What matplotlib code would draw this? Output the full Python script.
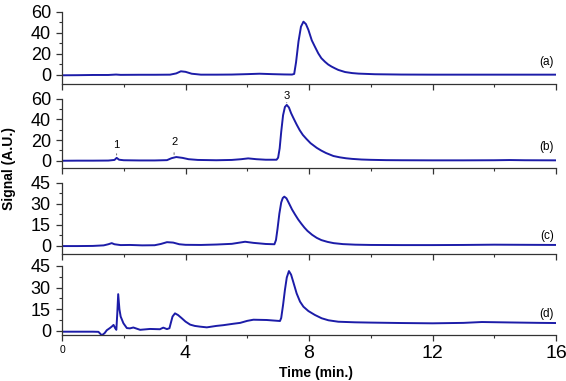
import matplotlib
matplotlib.use("Agg")
import matplotlib.pyplot as plt
from matplotlib.ticker import MultipleLocator

plt.rcParams['font.family'] = ['Liberation Sans', 'DejaVu Sans']

# chromatograms: time (min) and signal (A.U.)
t_a = [0.0, 0.5, 1.0, 1.5, 1.75, 1.9, 2.5, 3.0, 3.5, 3.7, 3.85, 4.0, 4.2, 4.5, 5.0, 5.5, 6.0, 6.4, 6.8, 7.2,
       7.45, 7.52, 7.58, 7.66, 7.74, 7.82, 7.9, 7.98, 8.09, 8.19, 8.3, 8.4, 8.52, 8.62, 8.73, 8.85, 8.95,
       9.17, 9.4, 9.6, 10.14, 11.0, 12.0, 13.0, 14.0, 15.0, 16.0]
y_a = [-0.3, -0.2, 0.0, 0.0, 0.4, 0.1, 0.2, 0.2, 0.3, 1.5, 3.5, 3.0, 1.2, 0.3, 0.3, 0.4, 0.8, 1.2, 0.8, 0.5,
       0.4, 1.0, 12.0, 32.0, 46.0, 50.8, 48.5, 43.0, 33.0, 27.0, 20.6, 16.0, 12.5, 10.0, 8.0, 6.2, 4.8,
       2.8, 1.8, 1.3, 0.7, 0.4, 0.3, 0.3, 0.3, 0.3, 0.3]

t_b = [0.0, 0.5, 1.0, 1.5, 1.7, 1.77, 1.85, 2.0, 2.5, 3.0, 3.4, 3.55, 3.7, 3.9, 4.1, 4.4, 5.0, 5.5, 5.8,
       6.03, 6.3, 6.6, 6.95, 7.0, 7.05, 7.1, 7.16, 7.22, 7.28, 7.35, 7.42, 7.5, 7.6, 7.7, 7.8, 7.92,
       8.05, 8.25, 8.4, 8.55, 8.79, 9.0, 9.2, 9.4, 9.7, 10.0, 10.5, 11.0, 12.0, 13.0, 14.0, 14.5, 15.0, 16.0]
y_b = [0.0, 0.1, 0.1, 0.2, 0.8, 2.8, 1.0, 0.5, 0.3, 0.3, 0.6, 2.5, 3.6, 2.8, 1.5, 0.8, 0.5, 0.8, 1.5,
       2.3, 1.5, 1.0, 1.0, 3.0, 12.0, 28.0, 44.0, 52.0, 54.0, 51.5, 46.0, 41.0, 35.0, 29.5, 25.0, 21.0,
       17.0, 12.5, 9.8, 7.5, 4.6, 3.3, 2.4, 1.8, 1.2, 0.9, 0.6, 0.5, 0.4, 0.4, 0.5, 0.7, 0.5, 0.4]

t_c = [0.0, 0.5, 1.0, 1.35, 1.5, 1.61, 1.7, 1.9, 2.2, 2.6, 3.0, 3.2, 3.4, 3.6, 3.8, 4.0, 4.5, 5.0, 5.5,
       5.93, 6.2, 6.6, 6.88, 6.93, 6.98, 7.04, 7.1, 7.15, 7.2, 7.27, 7.35, 7.45, 7.55, 7.65, 7.75, 7.85,
       7.95, 8.1, 8.25, 8.4, 8.6, 8.8, 9.1, 9.5, 10.0, 11.0, 12.0, 13.0, 14.0, 15.0, 16.0]
y_c = [-0.3, -0.3, -0.2, 0.2, 1.0, 1.8, 1.0, 0.4, 0.5, 0.2, 0.3, 1.2, 2.5, 2.2, 1.0, 0.6, 0.5, 0.8, 1.3,
       2.8, 2.0, 1.2, 1.0, 4.0, 12.0, 23.0, 31.0, 34.2, 35.2, 34.0, 30.5, 26.0, 22.3, 18.8, 15.8, 13.0,
       10.6, 7.8, 5.6, 4.0, 2.7, 1.8, 1.1, 0.7, 0.5, 0.4, 0.4, 0.5, 0.7, 0.6, 0.5]

t_d = [0.0, 0.5, 1.0, 1.18, 1.29, 1.38, 1.45, 1.55, 1.61, 1.67, 1.72, 1.76, 1.79, 1.82, 1.86, 1.9, 1.99,
       2.1, 2.2, 2.31, 2.53, 2.85, 3.17, 3.28, 3.4, 3.48, 3.53, 3.58, 3.66, 3.76, 3.88, 4.0, 4.15, 4.3,
       4.47, 4.69, 5.0, 5.22, 5.55, 5.77, 6.0, 6.2, 6.63, 7.06, 7.1, 7.16, 7.22, 7.28, 7.35, 7.42, 7.49,
       7.6, 7.71, 7.82, 7.98, 8.19, 8.41, 8.63, 8.95, 9.49, 10.0, 11.0, 12.0, 13.0, 13.6, 14.5, 15.5, 16.0]
y_d = [-0.5, -0.5, -0.5, -0.6, -3.0, -1.5, 0.5, 2.0, 3.0, 4.2, 2.0, 0.8, 12.0, 25.5, 15.0, 10.0, 5.3,
       2.0, 1.8, 2.4, 0.8, 1.4, 1.2, 2.3, 1.3, 1.9, 6.0, 10.0, 12.2, 11.0, 8.8, 6.5, 4.4, 3.5,
       3.0, 2.5, 3.5, 4.0, 5.0, 5.6, 7.0, 7.8, 7.6, 6.9, 9.0, 18.0, 28.4, 37.0, 41.5, 39.0, 34.0,
       26.0, 20.3, 16.8, 13.8, 11.1, 8.8, 7.4, 6.4, 6.0, 5.8, 5.5, 5.3, 5.6, 6.2, 5.9, 5.6, 5.5]

panel_labels = ['(a)', '(b)', '(c)', '(d)']
y_limits = [(-8.6, 60), (-7, 60), (-6, 45), (-3, 45)]
y_major = [20, 20, 15, 15]
label_y = [12, 13, 7, 12]

# peak labels in panel (b)
peak_names = ['1', '2', '3']
peak_t = [1.77, 3.63, 7.28]
peak_text_y = [15, 18, 62.5]
peak_mark = [(5.5, 9.5), (6, 10.5), (56, 59)]

line_color = '#1c1ca8'

fig = plt.figure(figsize=(5.66, 3.81), dpi=100)
W, H = 566, 381
# panel boxes in pixels: top, bottom
boxes = [(12, 84), (98.7, 168), (183, 254), (266, 335.3)]
series = [(t_a, y_a), (t_b, y_b), (t_c, y_c), (t_d, y_d)]

axes = []
for i, ((top, bot), (tt, yy)) in enumerate(zip(boxes, series)):
    ax = fig.add_axes([62 / W, 1 - bot / H, (556 - 62) / W, (bot - top) / H])
    ax.plot(tt, yy, color=line_color, lw=1.4)
    ax.set_xlim(0, 16)
    ax.set_ylim(*y_limits[i])
    ax.spines['top'].set_visible(False)
    ax.spines['right'].set_visible(False)
    for s in ['left', 'bottom']:
        ax.spines[s].set_color('#333333')
        ax.spines[s].set_linewidth(0.9)
    ax.xaxis.set_major_locator(MultipleLocator(4))
    ax.xaxis.set_minor_locator(MultipleLocator(2))
    ax.yaxis.set_major_locator(MultipleLocator(y_major[i]))
    ax.yaxis.set_minor_locator(MultipleLocator(y_major[i] / 2))
    ax.tick_params(which='major', direction='out', length=4.5, width=0.9, color='#333333')
    ax.tick_params(which='minor', direction='out', length=2.5, width=0.8, color='#333333')
    ax.tick_params(axis='y', labelsize=13, pad=3.5)
    ax.set_yticks([v for v in ax.get_yticks() if 0 <= v <= y_limits[i][1]])
    ax.text(15.7, label_y[i], panel_labels[i], fontsize=8.5, ha='center', va='center')
    if i < 3:
        ax.tick_params(axis='x', labelbottom=False)
    axes.append(ax)

ax_b = axes[1]
for name, tp, ty, (m0, m1) in zip(peak_names, peak_t, peak_text_y, peak_mark):
    ax_b.text(tp, ty, name, fontsize=8, ha='center', va='center', clip_on=False)
    ax_b.annotate('', xy=(tp, m0), xytext=(tp, m1),
                  arrowprops=dict(arrowstyle='-', lw=0.6, color='#555555'))

ax_d = axes[3]
ax_d.set_xticks([0, 4, 8, 12, 16])
ax_d.set_xticklabels(['0', '4', '8', '12', '16'])
ax_d.tick_params(axis='x', labelsize=14, pad=2.5)
ax_d.get_xticklabels()[0].set_fontsize(7.5)

fig.text(316 / W, 1 - 373 / H, 'Time (min.)', fontsize=10, fontweight='bold', ha='center', va='center')
fig.text(9 / W, 1 - 168 / H, 'Signal (A.U.)', fontsize=10, fontweight='bold', rotation=90,
         ha='center', va='center')

fig.savefig('out.png', dpi=100)
